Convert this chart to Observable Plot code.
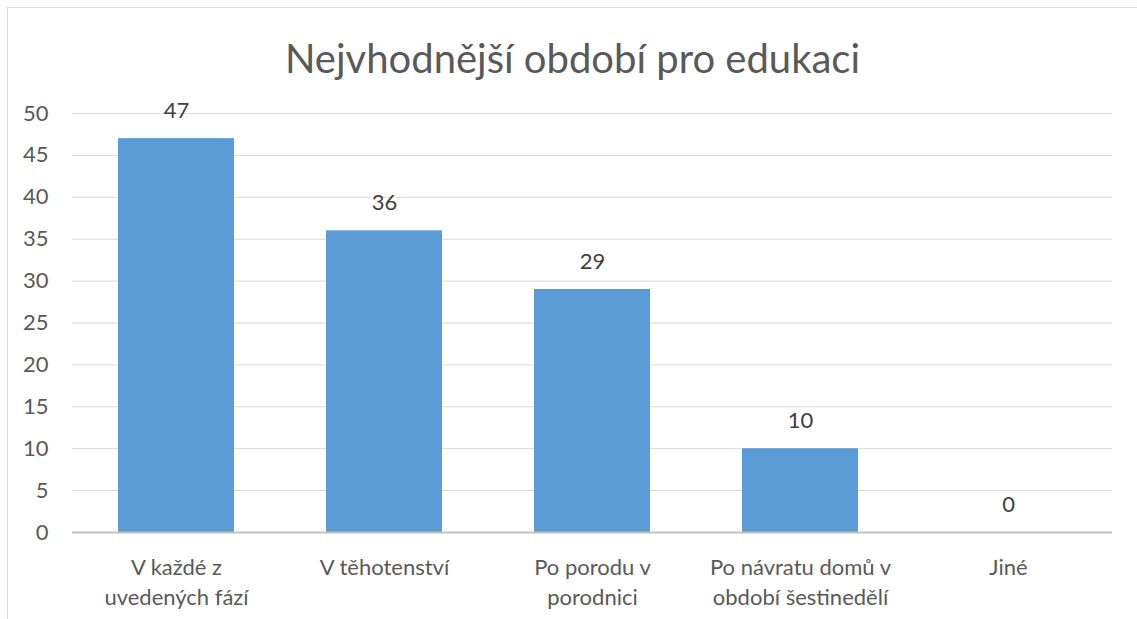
<!DOCTYPE html>
<html><head><meta charset="utf-8">
<script src="https://cdn.jsdelivr.net/npm/d3@7"></script>
<script src="https://cdn.jsdelivr.net/npm/@observablehq/plot@0.6"></script>
<style>
body{margin:0;background:#fff;font-family:Lato,"Open Sans",sans-serif;}
#wrap{position:relative;width:1137px;height:619px;overflow:hidden;}
#frame{position:absolute;left:7px;top:7px;width:1200px;height:700px;border-top:1px solid #d9d9d9;border-left:1px solid #d9d9d9;}
#title{position:absolute;left:0;width:1145px;top:34px;text-align:center;font-size:40px;color:#595959;font-weight:400;}
#chart{position:absolute;left:0;top:0;}
</style></head>
<body><div id="wrap"><div id="frame"></div><div id="chart"></div><div id="title">Nejvhodnější období pro edukaci</div></div>
<script>
const categories = ["V každé z\nuvedených fází", "V těhotenství", "Po porodu v\nporodnici", "Po návratu domů v\nobdobí šestinedělí", "Jiné"];
const values = [47, 36, 29, 10, 0];
const yTicks = [0, 5, 10, 15, 20, 25, 30, 35, 40, 45, 50];
const data = categories.map((c, i) => ({category: c, value: values[i]}));

const chart = Plot.plot({
  width: 1137,
  height: 619,
  marginTop: 113,
  marginBottom: 87,
  marginLeft: 72,
  marginRight: 25,
  style: {fontFamily: "Lato, 'Open Sans', sans-serif", fontSize: "22px", color: "#595959", background: "transparent"},
  x: {domain: categories, paddingInner: 0.44, paddingOuter: 0.22, label: null},
  y: {domain: [0, 50], label: null},
  marks: [
    Plot.gridY(yTicks, {stroke: "#d9d9d9", strokeOpacity: 1, strokeWidth: 1}),
    Plot.barY(data, {x: "category", y: "value", fill: "#5B9BD5"}),
    Plot.ruleY([0], {stroke: "#bfbfbf", strokeWidth: 2}),
    Plot.text(data, {x: "category", y: "value", text: d => String(d.value), dy: -28, fill: "#404040", fontSize: 22}),
    Plot.axisY(yTicks, {tickSize: 0, tickPadding: 24, fontSize: 22, fill: "#595959", label: null}),
    Plot.axisX({tickSize: 0, tickPadding: 21, fontSize: 22, fill: "#595959", lineHeight: 1.36, label: null})
  ]
});
document.getElementById("chart").appendChild(chart);
</script></body></html>
